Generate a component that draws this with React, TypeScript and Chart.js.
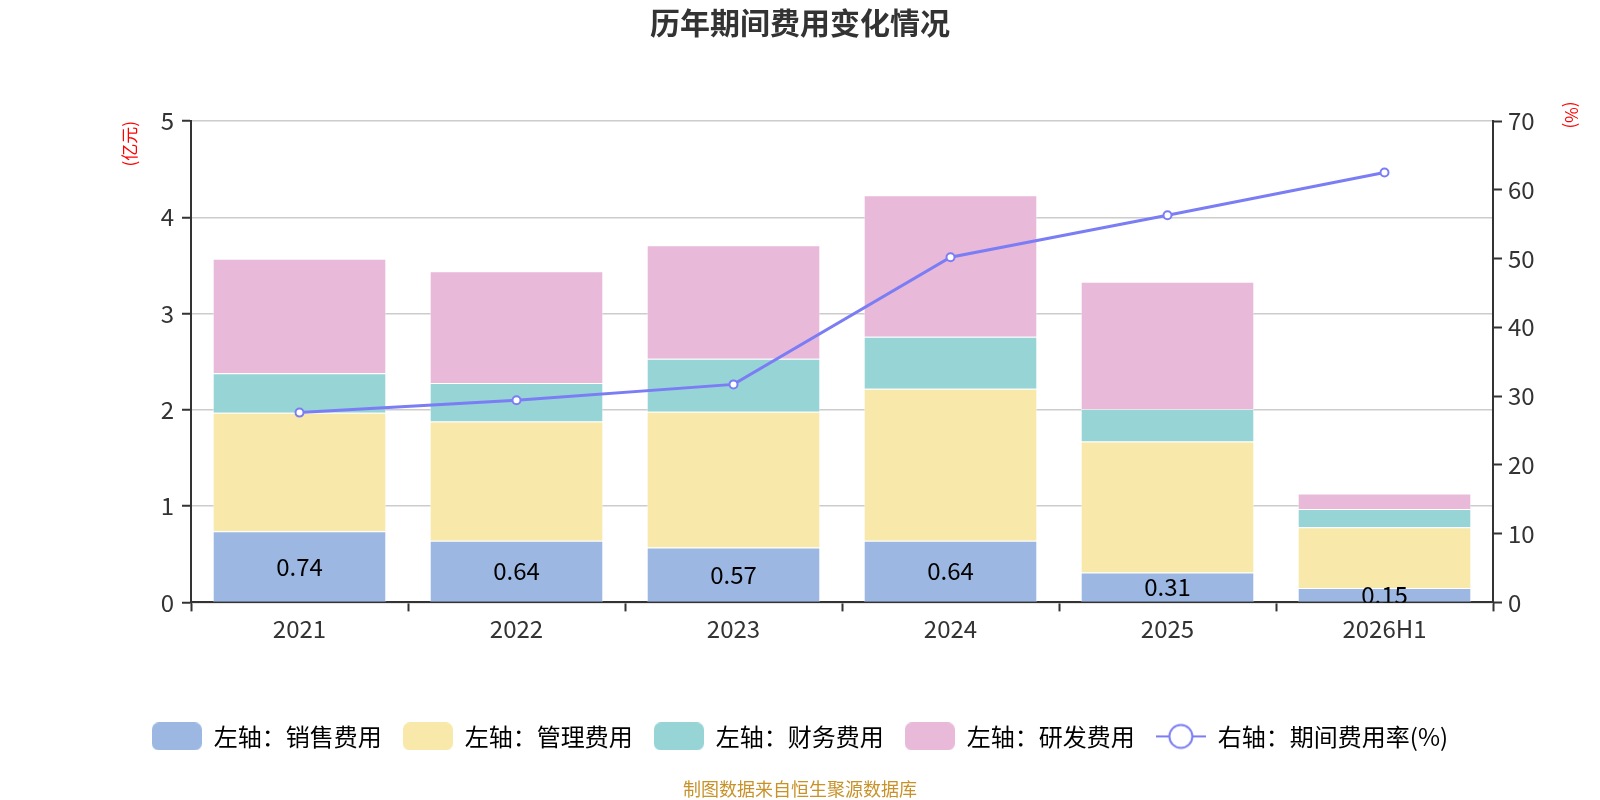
import React, { useEffect, useRef } from 'react';
import { Chart, registerables } from 'chart.js';

Chart.register(...registerables);

const FONT = "'Noto Sans CJK SC', 'Noto Sans', sans-serif";

const years = ['2021', '2022', '2023', '2024', '2025', '2026H1'];
const salesCost = [0.74, 0.64, 0.57, 0.64, 0.31, 0.15];
const adminCost = [1.23, 1.24, 1.41, 1.58, 1.36, 0.63];
const financeCost = [0.41, 0.40, 0.55, 0.54, 0.34, 0.19];
const rdCost = [1.19, 1.16, 1.18, 1.47, 1.32, 0.16];
const expenseRate = [27.6, 29.4, 31.7, 50.2, 56.3, 62.5];

const barColors = ['#9cb8e2', '#f8e8a9', '#97d4d5', '#e8b9d8'];
const lineColor = '#7b7df5';

// legend swatches drawn to small canvases so they can be used as point styles
function boxSwatch(color: string) {
  const c = document.createElement('canvas');
  c.width = 50;
  c.height = 28;
  const ctx = c.getContext('2d')!;
  ctx.fillStyle = color;
  ctx.beginPath();
  ctx.roundRect(0, 0, 50, 28, 7);
  ctx.fill();
  return c;
}

function lineSwatch(color: string) {
  const c = document.createElement('canvas');
  c.width = 50;
  c.height = 28;
  const ctx = c.getContext('2d')!;
  ctx.strokeStyle = color;
  ctx.lineWidth = 2;
  ctx.beginPath();
  ctx.moveTo(0, 14);
  ctx.lineTo(50, 14);
  ctx.stroke();
  ctx.beginPath();
  ctx.arc(25, 14, 11.5, 0, Math.PI * 2);
  ctx.fillStyle = '#fff';
  ctx.fill();
  ctx.stroke();
  return c;
}

const salesLabels = {
  id: 'salesLabels',
  afterDatasetsDraw(chart: any) {
    const { ctx, chartArea } = chart;
    const meta = chart.getDatasetMeta(0);
    ctx.save();
    ctx.beginPath();
    ctx.rect(chartArea.left, chartArea.top, chartArea.right - chartArea.left, chartArea.bottom - chartArea.top);
    ctx.clip();
    ctx.font = `24px ${FONT}`;
    ctx.fillStyle = '#000';
    ctx.textAlign = 'center';
    ctx.textBaseline = 'middle';
    meta.data.forEach((bar: any, i: number) => {
      ctx.fillText(salesCost[i].toFixed(2), bar.x, (bar.y + bar.base) / 2);
    });
    ctx.restore();
  },
};

// unit label of the right axis, sitting slightly above the plot top
const rightUnit = {
  id: 'rightUnit',
  afterDraw(chart: any) {
    const { ctx, chartArea } = chart;
    ctx.save();
    ctx.translate(1571, chartArea.top - 6);
    ctx.rotate(Math.PI / 2);
    ctx.font = `17px ${FONT}`;
    ctx.fillStyle = '#ff0000';
    ctx.textAlign = 'center';
    ctx.textBaseline = 'middle';
    ctx.fillText('(%)', 0, 0);
    ctx.restore();
  },
};

const App: React.FC = () => {
  const chartRef = useRef<HTMLCanvasElement>(null);

  useEffect(() => {
    document.body.style.margin = '0';
    const ctx = chartRef.current?.getContext('2d');
    if (!ctx) return;

    Chart.defaults.font.family = FONT;
    Chart.defaults.color = '#333';

    const barNames = ['左轴：销售费用', '左轴：管理费用', '左轴：财务费用', '左轴：研发费用'];
    const barData = [salesCost, adminCost, financeCost, rdCost];

    const chart = new Chart(ctx, {
      type: 'bar',
      data: {
        labels: years,
        datasets: [
          ...barData.map((d, i) => ({
            type: 'bar' as const,
            label: barNames[i],
            data: d,
            backgroundColor: barColors[i],
            borderColor: 'rgba(255,255,255,0.5)',
            borderWidth: 1,
            yAxisID: 'y',
            categoryPercentage: 0.8,
            barPercentage: 1,
            order: 1,
          })),
          {
            type: 'line' as const,
            label: '右轴：期间费用率(%)',
            data: expenseRate,
            borderColor: lineColor,
            borderWidth: 3,
            pointRadius: 4,
            pointBorderWidth: 2,
            pointBackgroundColor: '#fff',
            pointBorderColor: lineColor,
            yAxisID: 'y1',
            order: 0,
          },
        ],
      },
      options: {
        responsive: false,
        animation: false,
        layout: { padding: 0 },
        plugins: {
          title: {
            display: true,
            text: '历年期间费用变化情况',
            font: { size: 30, weight: 'bold' },
            color: '#333',
            padding: { top: 5, bottom: 80 },
          },
          subtitle: {
            display: true,
            position: 'bottom',
            text: '制图数据来自恒生聚源数据库',
            font: { size: 18 },
            color: '#c8922a',
            padding: { top: 20, bottom: 0 },
          },
          legend: {
            position: 'bottom',
            labels: {
              usePointStyle: true,
              pointStyleWidth: 50,
              boxHeight: 28,
              padding: 21,
              font: { size: 24 },
              color: '#333',
              generateLabels: (c: any) =>
                c.data.datasets.map((ds: any, i: number) => ({
                  text: ds.label,
                  pointStyle: i < 4 ? boxSwatch(barColors[i]) : lineSwatch(lineColor),
                  fillStyle: 'transparent',
                  strokeStyle: 'transparent',
                  lineWidth: 0,
                  hidden: false,
                  datasetIndex: i,
                })),
            },
          },
          tooltip: { enabled: false },
        },
        scales: {
          x: {
            stacked: true,
            afterFit: (s: any) => {
              s.height = 101;
            },
            grid: {
              offset: true,
              drawOnChartArea: false,
              drawTicks: true,
              tickLength: 9,
              tickColor: '#333',
              tickWidth: 2,
            },
            border: { color: '#333', width: 2 },
            ticks: { font: { size: 24 }, color: '#333', padding: 3 },
          },
          y: {
            stacked: true,
            position: 'left',
            min: 0,
            max: 5,
            afterFit: (s: any) => {
              s.width = 191;
            },
            ticks: { stepSize: 1, font: { size: 24 }, color: '#333', padding: 8 },
            grid: {
              color: '#cccccc',
              lineWidth: 1.5,
              tickLength: 9,
              tickColor: '#333',
              tickWidth: 2,
            },
            border: { color: '#333', width: 2 },
            title: {
              display: true,
              text: '(亿元)',
              color: '#ff0000',
              font: { size: 17 },
              align: 'end',
              padding: { top: 119, bottom: 0 },
            },
          },
          y1: {
            position: 'right',
            min: 0,
            max: 70,
            afterFit: (s: any) => {
              s.width = 107;
            },
            ticks: { stepSize: 10, font: { size: 24 }, color: '#333', padding: 6 },
            grid: {
              drawOnChartArea: false,
              tickLength: 9,
              tickColor: '#333',
              tickWidth: 2,
            },
            border: { color: '#333', width: 2 },
          },
        },
      },
      plugins: [salesLabels, rightUnit],
    });

    return () => {
      chart.destroy();
    };
  }, []);

  return (
    <div style={{ width: 1600, height: 800 }}>
      <canvas ref={chartRef} width={1600} height={800} />
    </div>
  );
};

export default App;
